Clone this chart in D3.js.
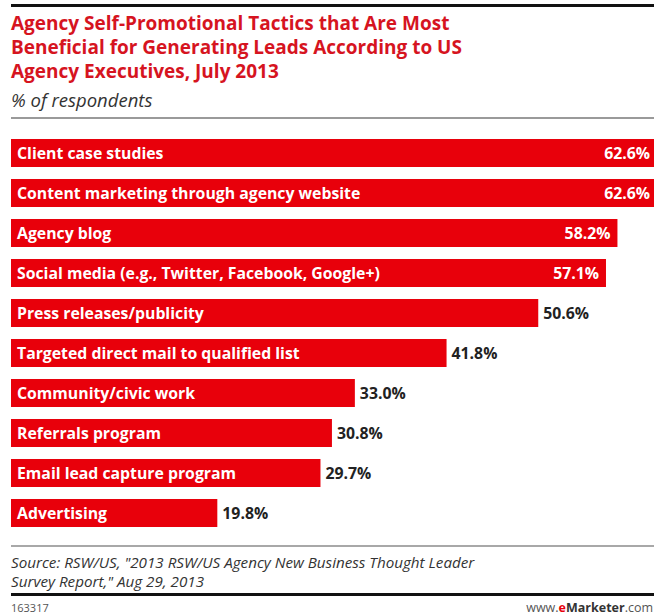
<!DOCTYPE html>
<html>
<head>
<meta charset="utf-8">
<script src="https://cdn.jsdelivr.net/npm/d3@7"></script>
<style>
  html, body { margin: 0; padding: 0; background: #fff; }
  svg { display: block; }
</style>
</head>
<body>
<div id="chart"></div>
<script>
// Survey data: tactics and share of respondents (%)
const categories = [
  "Client case studies",
  "Content marketing through agency website",
  "Agency blog",
  "Social media (e.g., Twitter, Facebook, Google+)",
  "Press releases/publicity",
  "Targeted direct mail to qualified list",
  "Community/civic work",
  "Referrals program",
  "Email lead capture program",
  "Advertising"
];
const values = [62.6, 62.6, 58.2, 57.1, 50.6, 41.8, 33.0, 30.8, 29.7, 19.8];
const titleLines = [
  "Agency Self-Promotional Tactics that Are Most",
  "Beneficial for Generating Leads According to US",
  "Agency Executives, July 2013"
];
const subtitle = "% of respondents";
const sourceLines = [
  "Source: RSW/US, \"2013 RSW/US Agency New Business Thought Leader",
  "Survey Report,\" Aug 29, 2013"
];
const chartId = "163317";

const W = 654, H = 616;
const svg = d3.select("#chart").append("svg").attr("width", W).attr("height", H);

const sans = "'Open Sans', 'Liberation Sans', Arial, sans-serif";
const red = "#e8000b";

// Header
svg.append("rect").attr("x", 11).attr("y", 4).attr("width", W - 11).attr("height", 3).attr("fill", "#111");
svg.selectAll("text.title").data(titleLines).join("text")
  .attr("class", "title")
  .attr("x", 11).attr("y", (d, i) => 30 + i * 24)
  .attr("fill", "#d6141f")
  .style("font-family", sans).style("font-weight", 700).style("font-size", "19px")
  .text(d => d);
svg.append("text").attr("x", 11).attr("y", 107)
  .attr("fill", "#333")
  .style("font-family", sans).style("font-style", "italic").style("font-size", "18.5px")
  .text(subtitle);
svg.append("rect").attr("x", 11).attr("y", 117).attr("width", W - 11).attr("height", 2).attr("fill", "#9a9a9a");

// Scales
const x = d3.scaleLinear().domain([0, 100]).range([11, 11 + 1042]);
const y = d3.scaleBand().domain(categories).range([133, 533]).paddingInner(0.3).paddingOuter(0.15);

const insideThreshold = 55;

const rows = svg.append("g").selectAll("g").data(categories).join("g")
  .attr("transform", d => `translate(0,${y(d)})`);

rows.append("rect")
  .attr("x", x(0))
  .attr("width", (d, i) => x(values[i]) - x(0))
  .attr("height", y.bandwidth())
  .attr("fill", red);

rows.append("text")
  .attr("x", x(0) + 6)
  .attr("y", y.bandwidth() / 2)
  .attr("dy", "0.36em")
  .attr("fill", "#fff")
  .style("font-family", sans).style("font-weight", 700).style("font-size", "15.8px")
  .text(d => d);

// Value labels: inside (white) for long bars, kept within the visible canvas
rows.append("text")
  .attr("x", (d, i) => values[i] > insideThreshold ? Math.min(x(values[i]) - 7, W - 4) : x(values[i]) + 5)
  .attr("y", y.bandwidth() / 2)
  .attr("dy", "0.36em")
  .attr("text-anchor", (d, i) => values[i] > insideThreshold ? "end" : "start")
  .attr("fill", (d, i) => values[i] > insideThreshold ? "#fff" : "#222")
  .style("font-family", sans).style("font-weight", 700).style("font-size", "15.8px")
  .text((d, i) => values[i].toFixed(1) + "%");

// Footer
svg.append("rect").attr("x", 11).attr("y", 545).attr("width", W - 11).attr("height", 2).attr("fill", "#a8a8a8");
svg.selectAll("text.source").data(sourceLines).join("text")
  .attr("class", "source")
  .attr("x", 11).attr("y", (d, i) => 568 + i * 19)
  .attr("fill", "#333")
  .style("font-family", sans).style("font-style", "italic").style("font-size", "15.2px")
  .text(d => d);
svg.append("rect").attr("x", 11).attr("y", 593).attr("width", W - 11).attr("height", 3).attr("fill", "#111");
svg.append("text").attr("x", 11).attr("y", 612)
  .attr("fill", "#555")
  .style("font-family", sans).style("font-size", "11px")
  .text(chartId);
const brand = svg.append("text").attr("x", 653).attr("y", 612).attr("text-anchor", "end")
  .attr("fill", "#555")
  .style("font-family", sans).style("font-size", "12.5px");
brand.append("tspan").text("www.");
brand.append("tspan").attr("fill", red).style("font-weight", 700).text("e");
brand.append("tspan").attr("fill", "#333").style("font-weight", 700).text("Marketer");
brand.append("tspan").text(".com");
</script>
</body>
</html>
